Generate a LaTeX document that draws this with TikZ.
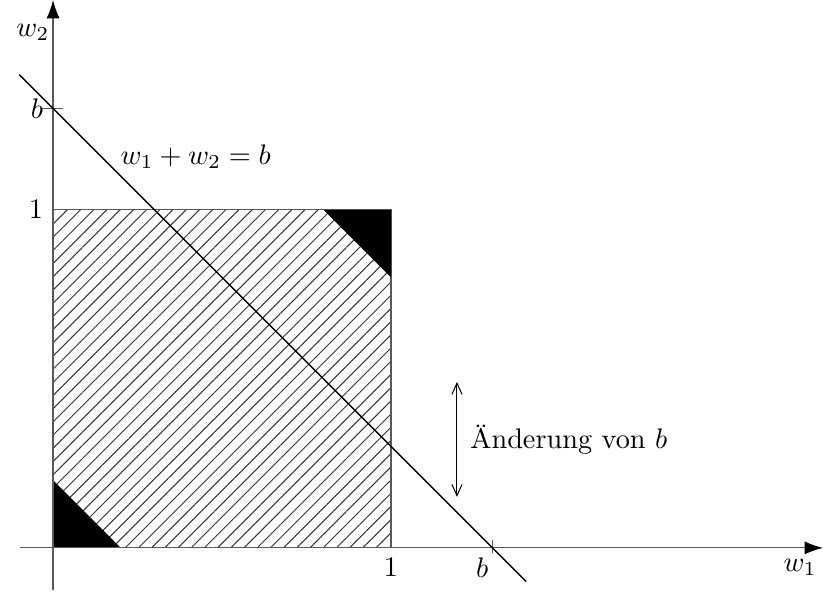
\documentclass[tikz,border=0pt]{standalone}
\usetikzlibrary{arrows.meta,patterns.meta}
\tikzset{
  axis/.style={draw=black!65,-{Latex[length=6.5pt,width=4.6pt,black]}},
  hatch/.style={pattern={Lines[angle=45,distance=3.3pt,line width=0.35pt]},pattern color=black!80}
}
\begin{document}
\begin{tikzpicture}[x=4.2cm,y=4.2cm]
    \useasboundingbox (-0.157,-0.136) rectangle (2.278,1.621);

    % Einheitsquadrat, schraffiert
    \fill[hatch] (0,0) rectangle (1,1);
    \draw[black!65] (0,0) -- (0,1) -- (1,1) -- (1,0);

    % schwarze Ecken
    \fill (0,0) -- (0.2,0) -- (0,0.2) -- cycle;
    \fill (0.8,1) -- (1,1) -- (1,0.8) -- cycle;

    % Achsen
    \coordinate (xa) at (-0.098,0);
    \coordinate (xe) at (2.278,0);
    \coordinate (ya) at (0,-0.124);
    \coordinate (ye) at (0,1.621);
    \draw[axis] (xa) -- (xe);
    \draw[axis] (ya) -- (ye);
    \node[below] (w1) at (2.21,-0.005) {$w_1$};
    \node (w2) at (-0.06,1.524) {$w_2$};

    % Markierungen
    \draw[black!65] (-0.035,1.3) -- (0.03,1.3);
    \draw[black!65] (1.3,-0.015) -- (1.3,0.022);
    \node[left] (b2) at (0,1.3) {$b$};
    \node[left] (e2) at (0,1) {$1$};
    \node[below] (e1) at (1,0) {$1$};
    \node[below] (b1) at (1.27,0) {$b$};

    % Gerade
    \coordinate (ga) at (-0.1,1.4);
    \coordinate (ge) at (1.4,-0.1);
    \draw[line width=0.5pt] (ga) -- (ge);
    \node[right] (gl) at (0.17,1.157) {$w_1+w_2=b$};

    % Verschiebung
    \coordinate (pa) at (1.195,0.491);
    \coordinate (pe) at (1.195,0.151);
    \draw[{Straight Barb[length=4pt,width=3.6pt]}-{Straight Barb[length=4pt,width=3.6pt]},line width=0.35pt] (pa) -- (pe);
    \node[right] (pl) at (1.205,0.32) {\"Anderung von $b$};
\end{tikzpicture}
\end{document}
